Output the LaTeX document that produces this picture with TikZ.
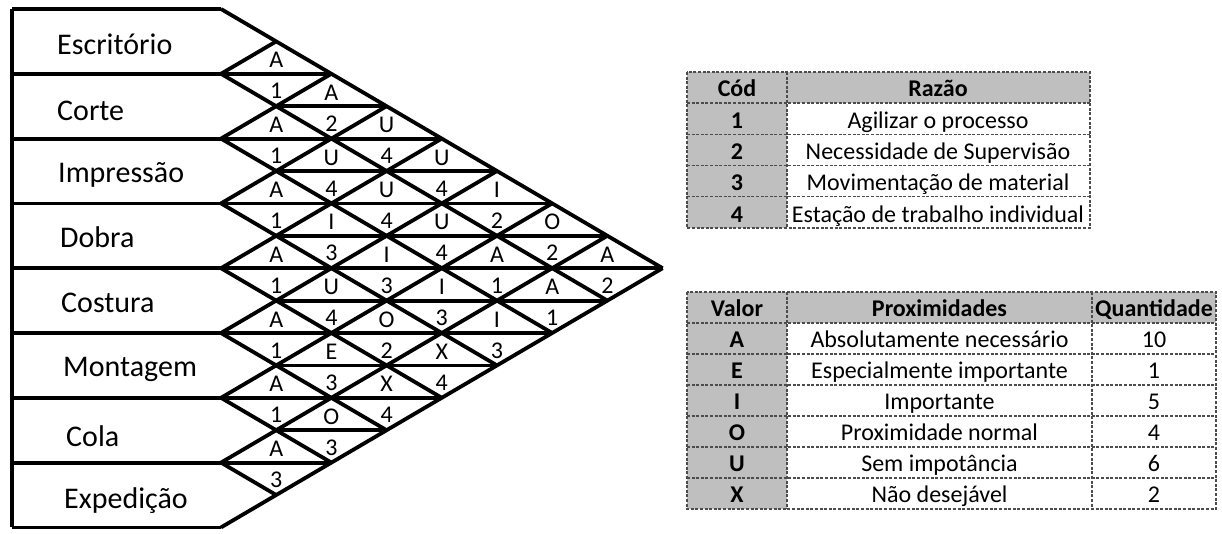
\documentclass[tikz,border=0pt]{standalone}
\usepackage{fontspec}
\setmainfont{Carlito}
\usetikzlibrary{calc}

\tikzset{
    grade/.style={line width=3.8pt},
    setor/.style={anchor=base west,inner sep=0pt,font=\fontsize{30}{32}\selectfont},
    letra/.style={anchor=base,inner sep=0pt,font=\fontsize{24}{26}\selectfont},
    tabela/.style={draw=black!70,line width=1.3pt,dash pattern=on 3pt off 1.6pt},
    cinza/.style={fill=black!25},
    cab/.style={anchor=base,inner sep=0pt,font=\fontsize{24}{26}\selectfont\bfseries},
    txt/.style={anchor=base,inner sep=0pt,font=\fontsize{24}{26}\selectfont},
}

\begin{document}
\begin{tikzpicture}[x=1pt,y=-1pt]
    \useasboundingbox (0,0) rectangle (1222,533);
    \def\xb{221}
    \def\yb{9}
    \def\passo{55.2}
    \def\altura{64.8}

    % borda esquerda e linhas horizontais
    \draw[grade] (12,\yb) -- (12,{\yb+8*\altura});
    \foreach \k in {0,...,8} {
        \pgfmathsetmacro\fim{\xb+2*\passo*min(\k,8-\k)}
        \draw[grade] (12,{\yb+\k*\altura}) -- (\fim,{\yb+\k*\altura});
    }
    \foreach \k in {1,...,6} {
        \pgfmathsetmacro\fim{\xb+\passo*min(2*\k+1,15-2*\k)}
        \draw[grade] ({\xb+\passo},{\yb+(\k+0.5)*\altura}) -- (\fim,{\yb+(\k+0.5)*\altura});
    }

    % diagonais (pontas dos setores e losangos)
    \foreach \k in {0,...,7} {
        \draw[grade] (\xb,{\yb+\k*\altura}) -- ++({(8-\k)*\passo},{(8-\k)*\altura/2});
        \draw[grade] (\xb,{\yb+(\k+1)*\altura}) -- ++({(\k+1)*\passo},{-(\k+1)*\altura/2});
    }

    % nomes dos setores
    \foreach \k/\nome/\dx/\dy in {0/Escritório/57/13.5, 1/Corte/57/14, 2/Impressão/58/11,
        3/Dobra/60/12, 4/Costura/61/11.5, 5/Montagem/63/11.5, 6/Cola/66/16.5, 7/Expedição/64/13}
        \node[setor] (setor-\k) at (\dx,{\yb+(\k+0.5)*\altura+\dy}) {\nome};

    % grau de proximidade e motivo de cada par
    \foreach \i/\j/\grau/\motivo in {0/1/A/1, 0/2/A/2, 0/3/U/4, 0/4/U/4, 0/5/I/2, 0/6/O/2, 0/7/A/2,
        1/2/A/1, 1/3/U/4, 1/4/U/4, 1/5/U/4, 1/6/A/1, 1/7/A/1,
        2/3/A/1, 2/4/I/3, 2/5/I/3, 2/6/I/3, 2/7/I/3,
        3/4/A/1, 3/5/U/4, 3/6/O/2, 3/7/X/4,
        4/5/A/1, 4/6/E/3, 4/7/X/4,
        5/6/A/1, 5/7/O/3,
        6/7/A/3} {
        \pgfmathsetmacro\cx{\xb+(\j-\i)*\passo}
        \pgfmathsetmacro\cy{\yb+(\i+\j+1)*\altura/2}
        \node[letra] (g-\i-\j) at (\cx,\cy-6) {\grau};
        \node[letra] (m-\i-\j) at (\cx,\cy+25) {\motivo};
    }

    % tabela de motivos
    \fill[cinza] (687,72) rectangle (1090,103);
    \fill[cinza] (687,103) rectangle (787,228);
    \draw[tabela] (687,72) rectangle (1090,228);
    \foreach \y in {103,134.25,165.5,196.75}
        \draw[tabela] (687,\y) -- (1090,\y);
    \draw[tabela] (787,72) -- (787,228);
    \node[cab] (cod) at (737,96) {Cód};
    \node[cab] (razao) at (938,96) {Razão};
    \foreach \n/\texto in {1/Agilizar o processo, 2/Necessidade de Supervisão,
        3/Movimentação de material, 4/Estação de trabalho individual} {
        \node[cab] (cod-\n) at (737,{103+31.25*\n-6}) {\n};
        \node[txt] (razao-\n) at (938,{103+31.25*\n-6}) {\texto};
    }

    % tabela de proximidades
    \fill[cinza] (687,292) rectangle (1216,323);
    \fill[cinza] (687,323) rectangle (787,509);
    \draw[tabela] (687,292) rectangle (1216,509);
    \foreach \y in {323,354,385,416,447,478}
        \draw[tabela] (687,\y) -- (1216,\y);
    \draw[tabela] (787,292) -- (787,509);
    \draw[tabela] (1092,292) -- (1092,509);
    \node[cab] (valor) at (737,316) {Valor};
    \node[cab] (prox) at (939.5,316) {Proximidades};
    \node[cab] (qtd) at (1154,316) {Quantidade};
    \foreach \v/\texto/\q [count=\r] in {A/Absolutamente necessário/10, E/Especialmente importante/1,
        I/Importante/5, O/Proximidade normal/4, U/Sem impotância/6, X/Não desejável/2} {
        \node[cab] (valor-\v) at (737,{323+31*\r-7}) {\v};
        \node[txt] (prox-\v) at (939.5,{323+31*\r-7}) {\texto};
        \node[txt] (qtd-\v) at (1154,{323+31*\r-7}) {\q};
    }
\end{tikzpicture}
\end{document}
